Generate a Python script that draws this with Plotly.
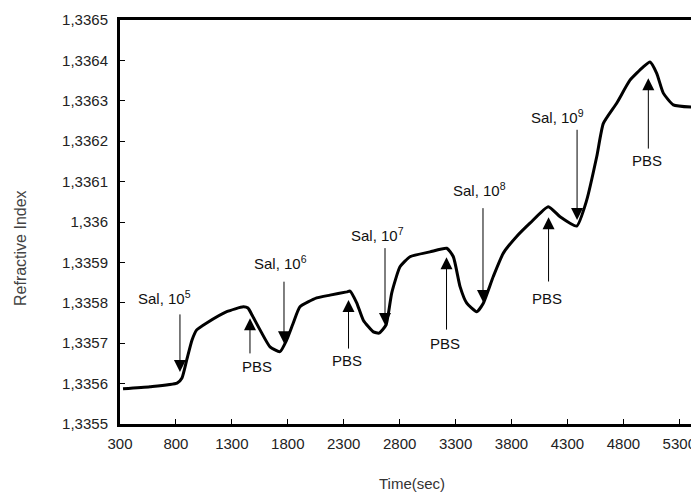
import plotly.graph_objects as go

# ---- data ----
time_s = [327, 568, 810, 854, 896, 944, 986, 1075, 1254, 1402, 1444, 1480, 1552, 1641, 1730,
          1790, 1849, 1909, 2058, 2177, 2327, 2356, 2416, 2475, 2565, 2615, 2678, 2729, 2803,
          2893, 3071, 3221, 3280, 3340, 3400, 3489, 3548, 3637, 3727, 3846, 3965, 4129, 4234,
          4383, 4472, 4562, 4621, 4740, 4859, 4978, 5038, 5098, 5157, 5246, 5440]
refr_index = [1.335587, 1.335592, 1.335601, 1.335614, 1.335658, 1.335708, 1.335733, 1.335750,
              1.335778, 1.335790, 1.335787, 1.335770, 1.335733, 1.335691, 1.335679, 1.335708,
              1.335750, 1.335790, 1.335812, 1.335819, 1.335827, 1.335829, 1.335800, 1.335757,
              1.335728, 1.335725, 1.335745, 1.335824, 1.335889, 1.335914, 1.335926, 1.335935,
              1.335914, 1.335840, 1.335799, 1.335778, 1.335799, 1.335865, 1.335923, 1.335964,
              1.335997, 1.336038, 1.336013, 1.335990, 1.336054, 1.336162, 1.336244, 1.336294,
              1.336351, 1.336384, 1.336396, 1.336368, 1.336319, 1.336290, 1.336284]

x_tick_vals = [300, 800, 1300, 1800, 2300, 2800, 3300, 3800, 4300, 4800, 5300]
y_tick_vals = [1.3355, 1.3356, 1.3357, 1.3358, 1.3359, 1.3360, 1.3361, 1.3362, 1.3363, 1.3364, 1.3365]
y_tick_text = ["1,3355", "1,3356", "1,3357", "1,3358", "1,3359", "1,336",
               "1,3361", "1,3362", "1,3363", "1,3364", "1,3365"]

# event markers: label, label position, arrow tail, arrow tip
event_labels = ["Sal, 10<sup>5</sup>", "PBS", "Sal, 10<sup>6</sup>", "PBS", "Sal, 10<sup>7</sup>",
                "PBS", "Sal, 10<sup>8</sup>", "PBS", "Sal, 10<sup>9</sup>", "PBS"]
label_x = [702, 1522, 1739, 2329, 2598, 3206, 3518, 4116, 4207, 5009]
label_y = [1.335814, 1.335642, 1.335901, 1.335656, 1.335968, 1.335700, 1.336081, 1.335811, 1.336260, 1.336153]
arrow_x = [836, 1462, 1766, 2343, 2669, 3219, 3545, 4131, 4386, 5023]
tail_y = [1.335775, 1.335671, 1.335856, 1.335683, 1.335939, 1.335730, 1.336038, 1.335849, 1.336232, 1.336178]
tip_y = [1.335629, 1.335762, 1.335700, 1.335807, 1.335745, 1.335913, 1.335802, 1.336012, 1.336005, 1.336356]

FONT = "Liberation Sans, Arial, sans-serif"

# page body has an 8px default margin; size the figure so it fills the 699x500 window
OFF = 8
W, H = 699 - OFF, 500 - OFF
L, R, T, B = 120 - OFF, 0, 20 - OFF, 500 - 424
pw, ph = W - L - R, H - T - B

fig = go.Figure()
fig.add_trace(go.Scatter(x=time_s, y=refr_index, mode="lines",
                         line=dict(color="black", width=3, shape="spline", smoothing=0.5),
                         showlegend=False, hoverinfo="skip"))

annotations = []
for lab, lx, ly in zip(event_labels, label_x, label_y):
    annotations.append(dict(x=lx, y=ly, xref="x", yref="y", text=lab, showarrow=False,
                            xanchor="center", yanchor="middle",
                            font=dict(family=FONT, size=15, color="#111")))
for ax_, ty, hy in zip(arrow_x, tail_y, tip_y):
    annotations.append(dict(x=ax_, y=hy, ax=ax_, ay=ty, xref="x", yref="y",
                            axref="x", ayref="y", text="", showarrow=True,
                            arrowhead=2, arrowsize=2.4, arrowwidth=1, arrowcolor="black",
                            standoff=0, startstandoff=0))

def px_to_paper(px, py):
    # px, py are window pixel positions
    return (px - OFF - L) / pw, 1 - (py - OFF - T) / ph

yt_x, yt_y = px_to_paper(21, 248)
xt_x, xt_y = px_to_paper(412, 484)
annotations.append(dict(x=yt_x, y=yt_y, xref="paper", yref="paper", text="Refractive Index",
                        showarrow=False, textangle=-90, xanchor="center", yanchor="middle",
                        font=dict(family=FONT, size=16, color="#444")))
annotations.append(dict(x=xt_x, y=xt_y, xref="paper", yref="paper", text="Time(sec)",
                        showarrow=False, xanchor="center", yanchor="middle",
                        font=dict(family=FONT, size=15, color="#333")))

fig.update_layout(
    width=W, height=H,
    margin=dict(l=L, r=R, t=T, b=B, pad=0),
    paper_bgcolor="white", plot_bgcolor="white",
    annotations=annotations,
    font=dict(family=FONT, size=15, color="#222"),
    xaxis=dict(range=[300, 5476], tickvals=x_tick_vals, ticks="inside", ticklen=5,
               tickwidth=1, tickcolor="black", showline=True, linewidth=3, linecolor="black",
               mirror=True, showgrid=False, zeroline=False,
               tickfont=dict(family=FONT, size=15, color="#222"), ticklabelstandoff=4),
    yaxis=dict(range=[1.3355, 1.3365], tickvals=y_tick_vals, ticktext=y_tick_text,
               ticks="inside", ticklen=5, tickwidth=1, tickcolor="black", showline=True,
               linewidth=3, linecolor="black", mirror=False, showgrid=False, zeroline=False,
               tickfont=dict(family=FONT, size=15, color="#222"), ticklabelstandoff=6),
)

fig.write_html("out.html")
